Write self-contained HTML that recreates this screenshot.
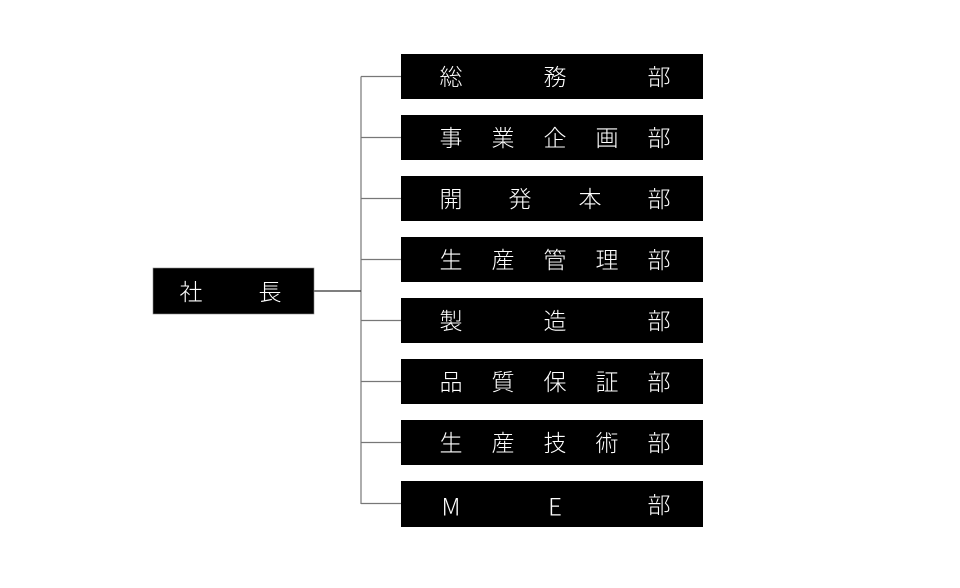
<!DOCTYPE html>
<html><head><meta charset="utf-8"><style>
html,body{margin:0;padding:0;background:#fff;}
svg{display:block;}
text{font-family:"Liberation Sans","Noto Sans CJK JP",sans-serif;font-size:23px;font-weight:300;fill:#fff;text-anchor:middle;dominant-baseline:central;}
text.l{font-family:"Noto Sans CJK JP",sans-serif;font-weight:300;font-size:24px;}
</style></head><body>
<svg width="960" height="588" viewBox="0 0 960 588" xmlns="http://www.w3.org/2000/svg">
<g stroke="#777" stroke-width="1.2" fill="none">
<line x1="361" y1="76.5" x2="361" y2="504"/>
<line x1="314" y1="291" x2="361" y2="291" stroke="#333"/>
<line x1="361" y1="76.5" x2="401" y2="76.5"/>
<line x1="361" y1="137.5" x2="401" y2="137.5"/>
<line x1="361" y1="198.5" x2="401" y2="198.5"/>
<line x1="361" y1="259.5" x2="401" y2="259.5"/>
<line x1="361" y1="320.5" x2="401" y2="320.5"/>
<line x1="361" y1="381.5" x2="401" y2="381.5"/>
<line x1="361" y1="442.5" x2="401" y2="442.5"/>
<line x1="361" y1="503.5" x2="401" y2="503.5"/>
</g>
<rect x="153" y="268" width="161" height="46" fill="#000" stroke="#888" stroke-width="0.6"/>
<text x="191" y="292">社</text><text x="270" y="292">長</text>
<g fill="#000">
<rect x="401" y="54" width="302" height="45"/>
<rect x="401" y="115" width="302" height="45"/>
<rect x="401" y="176" width="302" height="45"/>
<rect x="401" y="237" width="302" height="45"/>
<rect x="401" y="298" width="302" height="45"/>
<rect x="401" y="359" width="302" height="45"/>
<rect x="401" y="420" width="302" height="45"/>
<rect x="401" y="481" width="302" height="46"/>
</g>
<text x="451" y="77">総</text><text x="555" y="77">務</text><text x="659" y="77">部</text>
<text x="451" y="138">事</text><text x="503" y="138">業</text><text x="555" y="138">企</text><text x="607" y="138">画</text><text x="659" y="138">部</text>
<text x="451" y="199">開</text><text x="520" y="199">発</text><text x="590" y="199">本</text><text x="659" y="199">部</text>
<text x="451" y="260">生</text><text x="503" y="260">産</text><text x="555" y="260">管</text><text x="607" y="260">理</text><text x="659" y="260">部</text>
<text x="451" y="321">製</text><text x="555" y="321">造</text><text x="659" y="321">部</text>
<text x="451" y="382">品</text><text x="503" y="382">質</text><text x="555" y="382">保</text><text x="607" y="382">証</text><text x="659" y="382">部</text>
<text x="451" y="443">生</text><text x="503" y="443">産</text><text x="555" y="443">技</text><text x="607" y="443">術</text><text x="659" y="443">部</text>
<text class="l" x="451" y="505">M</text><text class="l" x="555" y="505">E</text><text x="659" y="505">部</text>
</svg>
</body></html>
